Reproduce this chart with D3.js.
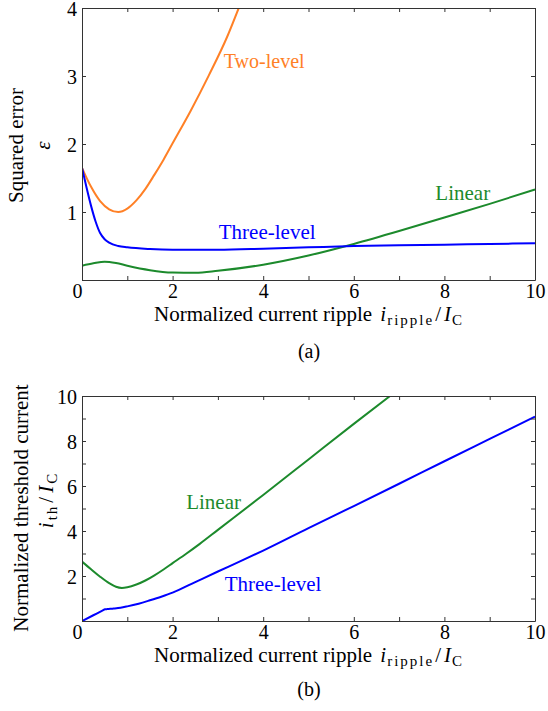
<!DOCTYPE html>
<html>
<head>
<meta charset="utf-8">
<script src="https://cdn.jsdelivr.net/npm/d3@7"></script>
<style>
  body { margin: 0; background: #fff; }
</style>
</head>
<body>
<div id="chart"></div>
<script>
// x axis shared by both panels
const xDomain = [0, 10];
const xTicks = d3.range(0, 11);
const xTickLabels = [0, 2, 4, 6, 8, 10];

// (a) squared error
const errYTicks = [0, 1, 2, 3, 4];
const errYTickLabels = [1, 2, 3, 4];
const twoLevelErr = [[0, 1.65], [0.2, 1.37], [0.4, 1.16], [0.6, 1.04], [0.8, 1.0], [1.0, 1.05],
    [1.2, 1.17], [1.4, 1.34], [1.6, 1.55], [1.8, 1.77], [2.0, 2.01], [2.4, 2.49], [2.8, 3.01],
    [3.2, 3.57], [3.46, 4.0]];
const threeLevelErr = [[0, 1.65], [0.1, 1.36], [0.2, 1.09], [0.3, 0.86], [0.4, 0.69], [0.5, 0.6],
    [0.6, 0.55], [0.8, 0.5], [1.0, 0.48], [1.5, 0.455], [2, 0.445], [3, 0.445], [4, 0.46],
    [5, 0.48], [6, 0.5], [7, 0.51], [8, 0.52], [9, 0.53], [10, 0.54]];
const linearErr = [[0, 0.21], [0.25, 0.245], [0.5, 0.27], [0.75, 0.25], [1, 0.21], [1.5, 0.145],
    [2, 0.11], [2.5, 0.105], [3, 0.135], [4, 0.225], [5, 0.36], [6, 0.53], [7, 0.72], [8, 0.92],
    [9, 1.12], [10, 1.33]];

// (b) threshold current
const thYTicks = d3.range(0, 11);
const thYTickLabels = [2, 4, 6, 8, 10];
const linearTh = [[0, 2.64], [0.2, 2.3], [0.4, 1.97], [0.6, 1.68], [0.75, 1.52], [0.88, 1.47],
    [1.0, 1.5], [1.2, 1.62], [1.4, 1.8], [1.6, 2.03], [1.8, 2.29], [2.0, 2.57], [2.3, 2.99],
    [2.6, 3.43], [3.0, 4.05], [4.0, 5.6], [5.0, 7.18], [6.0, 8.76], [6.8, 10.0]];
const threeLevelTh = [[0, 0], [0.25, 0.255], [0.45, 0.46], [0.51, 0.52], [0.56, 0.53], [0.7, 0.555],
    [0.85, 0.59], [1.0, 0.65], [1.25, 0.77], [1.5, 0.92], [1.75, 1.08], [2.0, 1.26], [2.5, 1.73],
    [3.0, 2.2], [3.5, 2.66], [4.0, 3.13], [5.0, 4.13], [6.0, 5.11], [7.0, 6.1], [8.0, 7.1],
    [9.0, 8.09], [10, 9.08]];

const colors = {two: '#ff8026', three: '#0000ff', linear: '#1c8a2c'};
const serif = '"Liberation Serif", "Times New Roman", serif';

const svg = d3.select('#chart').append('svg')
    .attr('width', 548)
    .attr('height', 711);

// math label helper: parts are [text, style, dx]
function mathText(sel, parts) {
    parts.forEach(p => {
        const t = sel.append('tspan').text(p[0]).attr('dx', p[2] || 0);
        if (p[1] === 'it') t.style('font-style', 'italic');
        if (p[1] === 'sub') t.style('font-size', '15px').attr('dy', 4).style('letter-spacing', '2px');
        if (p[1] === 'up') t.attr('dy', -4);
    });
}

function drawPanel(p) {
    const x = d3.scaleLinear().domain(xDomain).range([82, 535]);
    const y = d3.scaleLinear().domain(p.yDomain).range([p.bottom, p.top]);
    const g = svg.append('g');

    const clipId = 'clip' + p.id;
    g.append('clipPath').attr('id', clipId)
        .append('rect')
        .attr('x', 82).attr('y', p.top)
        .attr('width', 454).attr('height', p.bottom - p.top + 1);

    const lines = g.append('g').attr('clip-path', `url(#${clipId})`);
    const line = d3.line().x(d => x(d[0])).y(d => y(d[1])).curve(d3.curveMonotoneX);
    p.series.forEach(s => {
        lines.append('path')
            .attr('d', line(s.data))
            .attr('fill', 'none')
            .attr('stroke', s.color)
            .attr('stroke-width', 2);
    });

    // axes, ticks pointing inward
    const xb = g.append('g').attr('transform', `translate(0,${p.bottom})`)
        .call(d3.axisBottom(x).tickValues(xTicks).tickSize(-4).tickSizeOuter(0)
            .tickFormat(d => xTickLabels.includes(d) ? d : ''));
    xb.selectAll('text').attr('y', 18).attr('dy', null)
        .attr('text-anchor', d => d === 0 ? 'end' : 'middle');
    g.append('g').attr('transform', `translate(0,${p.top})`)
        .call(d3.axisTop(x).tickValues(xTicks).tickSize(-4).tickSizeOuter(0).tickFormat(''));
    const yl = g.append('g').attr('transform', 'translate(82,0)')
        .call(d3.axisLeft(y).tickValues(p.yTicks).tickSize(-4).tickSizeOuter(0)
            .tickFormat(d => p.yLabels.includes(d) ? d : ''));
    yl.selectAll('text').attr('x', -5).attr('dy', '0.35em');
    g.append('g').attr('transform', 'translate(535,0)')
        .call(d3.axisRight(y).tickValues(p.yTicks).tickSize(-4).tickSizeOuter(0).tickFormat(''));

    g.selectAll('.domain, .tick line').attr('stroke', '#333');
    g.selectAll('.tick text')
        .attr('fill', '#000')
        .style('font-family', serif)
        .style('font-size', '20px');

    // curve names
    p.notes.forEach(n => {
        g.append('text')
            .attr('x', x(n.at[0])).attr('y', y(n.at[1]))
            .attr('fill', n.color)
            .style('font-family', serif)
            .style('font-size', n.size + 'px')
            .text(n.text);
    });

    // x title
    const xt = g.append('text')
        .attr('x', 309).attr('y', p.bottom + 40.5)
        .attr('text-anchor', 'middle')
        .style('font-family', serif)
        .style('font-size', '21px')
        .text('Normalized current ripple ');
    mathText(xt, [['i', 'it', 3], ['ripple', 'sub', 1], ['/', 'up', 1], ['I', 'it', 3], ['C', 'sub', 1]]);

    // caption
    g.append('text')
        .attr('x', 309).attr('y', p.bottom + p.capOffset)
        .attr('text-anchor', 'middle')
        .style('font-family', serif)
        .style('font-size', '20px')
        .text(p.caption);

    // y title
    g.append('text')
        .attr('transform', `translate(${p.yTitleX},${p.yTitleY}) rotate(-90)`)
        .attr('text-anchor', 'middle')
        .style('font-family', serif)
        .style('font-size', '21px')
        .text(p.yTitle);
    const ym = g.append('text')
        .attr('transform', `translate(${p.yMathX},${p.yMathY}) rotate(-90)`)
        .attr('text-anchor', 'middle')
        .style('font-family', serif)
        .style('font-size', '21px');
    mathText(ym, p.yMath);
}

drawPanel({
    id: 'a', top: 8, bottom: 280, yDomain: [0, 4], yTicks: errYTicks, yLabels: errYTickLabels,
    series: [
        {data: twoLevelErr, color: colors.two},
        {data: linearErr, color: colors.linear},
        {data: threeLevelErr, color: colors.three}
    ],
    notes: [
        {text: 'Two-level', at: [3.13, 3.12], color: colors.two, size: 20},
        {text: 'Three-level', at: [3.02, 0.596], color: colors.three, size: 21},
        {text: 'Linear', at: [7.8, 1.18], color: colors.linear, size: 21}
    ],
    caption: '(a)', capOffset: 78,
    yTitle: 'Squared error', yTitleX: 23, yTitleY: 145.5,
    yMath: [['ε', 'it']], yMathX: 50, yMathY: 145.5
});

drawPanel({
    id: 'b', top: 396, bottom: 621, yDomain: [0, 10], yTicks: thYTicks, yLabels: thYTickLabels,
    series: [
        {data: linearTh, color: colors.linear},
        {data: threeLevelTh, color: colors.three}
    ],
    notes: [
        {text: 'Linear', at: [2.3, 5.0], color: colors.linear, size: 21},
        {text: 'Three-level', at: [3.15, 1.33], color: colors.three, size: 21}
    ],
    caption: '(b)', capOffset: 75,
    yTitle: 'Normalized threshold current', yTitleX: 27.5, yTitleY: 508,
    yMath: [['i', 'it'], ['th', 'sub', 2], ['/', 'up', 2], ['I', 'it', 4], ['C', 'sub', 2]], yMathX: 53, yMathY: 500
});
</script>
</body>
</html>
